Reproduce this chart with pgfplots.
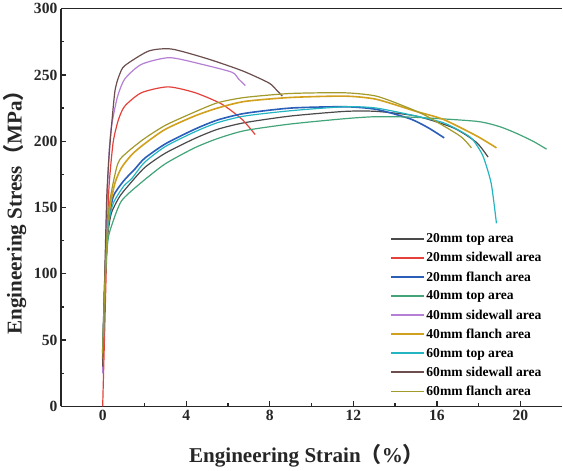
\documentclass[border=0pt]{standalone}
\usepackage{fontspec}
\setmainfont{Liberation Serif}
\newfontfamily\cjk{Noto Sans CJK SC}
\usepackage{pgfplots}
\pgfplotsset{compat=1.18}
\definecolor{cgray}{HTML}{4A4A4A}
\definecolor{cred}{HTML}{E5413B}
\definecolor{cblue}{HTML}{2B5EB9}
\definecolor{cgreen}{HTML}{43A47A}
\definecolor{cpurple}{HTML}{B47FD4}
\definecolor{cgold}{HTML}{D1A01C}
\definecolor{ccyan}{HTML}{23B6C2}
\definecolor{cbrown}{HTML}{6C4E4E}
\definecolor{colive}{HTML}{A39A2C}
\begin{document}
\begin{tikzpicture}
\begin{axis}[
  width=499pt, height=396pt, scale only axis,
  xmin=-2, xmax=22, ymin=0, ymax=300,
  axis x line*=box, axis y line*=left,
  axis line style={line width=1.5pt, color=black!85},
  xtick={0,4,...,20}, ytick={0,50,...,300},
  minor x tick num=1, minor y tick num=1,
  xtick pos=bottom, ytick pos=left,
  tick align=inside,
  major tick length=5pt, minor tick length=3pt,
  tick style={line width=1.3pt, color=black!85},
  /pgf/number format/assume math mode=true,
  ticklabel style={font=\bfseries\fontsize{15.5}{15.5}\selectfont, color=black!85},
  xlabel={Engineering Strain{\cjk（}\%{\cjk）}},
  ylabel={Engineering Stress{\cjk（}MPa{\cjk）}},
  label style={font=\bfseries\fontsize{21}{21}\selectfont, color=black!85},
  xlabel style={at={(axis description cs:0.49,-0.124)}, anchor=center},
  ylabel style={at={(axis description cs:-0.092,0.5)}, anchor=center},
  legend style={draw=none, fill=none, at={(axis description cs:0.657,0.44)}, anchor=north west,
    font=\bfseries\fontsize{13.5}{13.5}\selectfont, row sep=4.2pt, inner sep=0pt},
  legend cell align=left,
  legend image code/.code={\draw[#1, line width=1.8pt] (0pt,0pt) -- (32pt,0pt);},
  every axis plot/.append style={line width=1.2pt, line join=round},
]
% 20mm top area
\addplot[cgray, smooth, tension=0.4] coordinates {(0,40)(0.12,100)(0.25,130)(0.42,146)(0.8,158)(1.2,166)(2,180)(3,191)(4.4,202)(5.5,209)(6.8,214)(9,219)(11.6,222.5)(13.1,222.5)(15,219)(16.8,210)(17.9,199)(18.45,188)};
\addlegendentry{20mm top area}
% 20mm sidewall area
\addplot[cred, smooth, tension=0.4] coordinates {(0,0)(0.1,60)(0.2,120)(0.3,165)(0.5,199)(0.75,216)(1.06,226.5)(1.86,236.6)(3.13,241)(4.42,236.6)(5.7,228)(6.67,216.5)(7.3,205)};
\addlegendentry{20mm sidewall area}
% 20mm flanch area
\addplot[cblue, smooth, tension=0.4, line width=1.6pt] coordinates {(0,40)(0.12,100)(0.25,135)(0.5,158)(1,170)(1.54,179)(2,187)(3,198)(4.4,209)(5.5,216)(6.8,221)(9,225)(11.6,226)(13.1,224)(14.7,217)(15.6,210)(16.35,202.5)};
\addlegendentry{20mm flanch area}
% 40mm top area
\addplot[cgreen, smooth, tension=0.4] coordinates {(0,35)(0.12,95)(0.25,125)(0.42,136)(0.9,155)(1.86,169)(3,183)(4.4,195)(5.5,202)(6.8,208)(9,213)(11.6,217)(13.1,218.5)(15,218)(17.9,215)(19,211)(19.8,206)(20.6,200)(21.25,194)};
\addlegendentry{40mm top area}
% 40mm sidewall area
\addplot[cpurple, smooth, tension=0.4] coordinates {(0,25)(0.1,90)(0.2,150)(0.3,190)(0.42,211)(0.7,233)(1.06,247)(1.86,258)(3.2,263)(4.75,258)(6.19,252)(6.5,247)(6.83,242)};
\addlegendentry{40mm sidewall area}
% 40mm flanch area
\addplot[cgold, smooth, tension=0.4, line width=1.6pt] coordinates {(0,35)(0.12,100)(0.3,145)(0.58,168)(0.9,180)(1.4,190)(2,198)(3,209)(4.4,219)(5.5,225)(6.8,230)(9,233)(11.6,234)(13.1,231.6)(15,222.5)(16.3,216.5)(17.9,204)(18.85,195)};
\addlegendentry{40mm flanch area}
% 60mm top area
\addplot[ccyan, smooth, tension=0.4] coordinates {(0,40)(0.12,100)(0.25,135)(0.5,153)(1,166)(1.4,172)(2,184)(3,196)(4.4,207)(5.5,214)(6.8,219)(9,223)(11.6,226)(13.1,225)(15,219)(16.3,214)(17.2,207)(17.7,201.5)(18.2,189)(18.6,168)(18.85,138)};
\addlegendentry{60mm top area}
% 60mm sidewall area
\addplot[cbrown, smooth, tension=0.4] coordinates {(0,30)(0.1,100)(0.2,160)(0.34,196)(0.58,237)(0.8,250)(1.06,257)(2.2,268)(3.3,269.5)(5.05,262)(6.7,253)(7.95,244)(8.3,239)(8.6,234)};
\addlegendentry{60mm sidewall area}
% 60mm flanch area
\addplot[colive, smooth, tension=0.4] coordinates {(0,40)(0.12,100)(0.3,150)(0.72,183)(1.2,192)(2,202)(3,212)(4.4,222)(5.5,229)(6.8,233)(9,236)(11.6,236.5)(13.1,234)(14.5,226)(15.5,219)(17.1,204)(17.65,195)};
\addlegendentry{60mm flanch area}
\end{axis}
\end{tikzpicture}
\end{document}
